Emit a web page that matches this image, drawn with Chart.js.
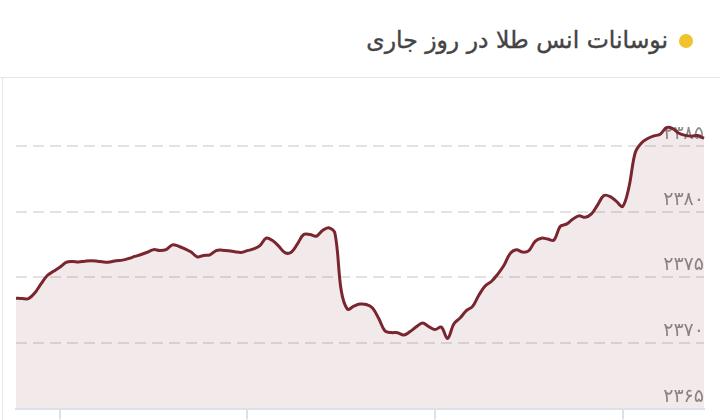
<!DOCTYPE html>
<html><head><meta charset="utf-8">
<script src="https://cdn.jsdelivr.net/npm/chart.js@4"></script>
<style>
html,body{margin:0;padding:0;background:#fff;width:720px;height:420px;overflow:hidden;}
#header{position:absolute;left:0;top:0;width:720px;height:77px;border-bottom:1px solid #e6e6e6;}
#title{position:absolute;right:52px;top:21px;font-family:"DejaVu Sans";font-weight:normal;font-size:23.5px;color:#444;direction:rtl;white-space:nowrap;line-height:38px;-webkit-text-stroke:0.4px #444;}
#dot{position:absolute;left:679px;top:34px;width:14px;height:14px;border-radius:50%;background:#f0c22b;}
#wrap{position:absolute;left:0;top:69px;width:720px;height:351px;}
#leftline{position:absolute;left:2px;top:78px;width:1px;height:342px;background:#e8e8e8;}
</style></head>
<body>
<div id="header"><div id="title">نوسانات انس طلا در روز جاری</div><div id="dot"></div></div>
<div id="leftline"></div>
<div id="wrap"><canvas id="c" width="720" height="351"></canvas></div>
<script>
const categories = [
'09:46','09:48','09:50','09:52','09:54','09:56','09:58',
'10:00','10:02','10:04','10:06','10:08','10:10','10:12','10:14','10:16','10:18','10:20','10:22','10:24','10:26','10:28','10:30','10:32','10:34','10:36','10:38','10:40','10:42','10:44','10:46','10:48','10:50','10:52','10:54','10:56','10:58',
'11:00','11:02','11:04','11:06','11:08','11:10','11:12','11:14','11:16','11:18','11:20','11:22','11:24','11:26','11:28','11:30','11:32','11:34','11:36','11:38','11:40','11:42','11:44','11:46','11:48','11:50','11:52','11:54','11:56','11:58',
'12:00','12:02','12:04','12:06','12:08','12:10','12:12','12:14','12:16','12:18','12:20','12:22','12:24','12:26','12:28','12:30','12:32','12:34','12:36','12:38','12:40','12:42','12:44','12:46','12:48','12:50','12:52','12:54','12:56','12:58',
'13:00','13:02','13:04','13:06','13:08','13:10','13:12','13:14','13:16','13:18','13:20','13:22','13:24','13:26'
];
const goldOunce = [
2373.41,2373.38,2373.38,2373.81,2374.50,2375.14,2375.46,2375.77,2376.13,2376.20,
2376.17,2376.23,2376.27,2376.23,2376.16,2376.17,2376.27,2376.31,2376.43,2376.59,
2376.74,2376.91,2377.11,2377.04,2377.11,2377.47,2377.37,2377.17,2376.92,2376.55,
2376.67,2376.71,2377.04,2377.07,2377.03,2376.95,2376.89,2377.03,2377.16,2377.42,
2377.99,2377.80,2377.38,2376.88,2376.91,2377.55,2378.26,2378.26,2378.13,2378.57,
2378.78,2378.34,2373.99,2372.56,2372.80,2372.96,2372.93,2372.67,2371.86,2370.91,
2370.79,2370.78,2370.60,2370.87,2371.23,2371.52,2371.25,2371.02,2371.21,2370.34,
2371.45,2371.90,2372.46,2372.79,2373.64,2374.34,2374.68,2375.23,2375.90,2376.81,
2377.10,2376.92,2377.04,2377.74,2377.98,2377.92,2377.83,2378.87,2379.05,2379.42,
2379.68,2379.57,2379.83,2380.52,2381.23,2381.15,2380.78,2380.40,2381.87,2384.49,
2385.23,2385.57,2385.77,2385.90,2386.40,2386.33,2385.97,2385.81,2385.75,2385.80,
2385.59
];
const xTickLabels = ['10:00','11:00','12:00','13:00'];
const yTickValues = [2365,2370,2375,2380,2385];
const yTickLabels = ['۲۳۶۵','۲۳۷۰','۲۳۷۵','۲۳۸۰','۲۳۸۵'];

new Chart(document.getElementById('c'), {
  type: 'line',
  data: {
    labels: categories,
    datasets: [{
      data: goldOunce,
      borderColor: '#7a2631',
      borderWidth: 3,
      backgroundColor: 'rgba(122,38,49,0.1)',
      fill: 'start',
      pointRadius: 0,
      tension: 0.35
    }]
  },
  options: {
    responsive: false,
    animation: false,
    devicePixelRatio: 1,
    layout: { padding: { left: 16, right: 16, top: 0, bottom: 0 } },
    plugins: { legend: { display: false }, tooltip: { enabled: false } },
    scales: {
      x: {
        grid: { drawOnChartArea: false, drawTicks: true, tickLength: 11, color: '#dde2ea', lineWidth: 2 },
        border: { display: true, color: '#dde2ea', width: 2 },
        ticks: { display: false, autoSkip: false },
        afterBuildTicks: axis => { axis.ticks = axis.ticks.filter(t => xTickLabels.includes(categories[t.value])); }
      },
      y: {
        position: 'right',
        min: 2365, max: 2390,
        border: { display: false, dash: [11, 6] },
        grid: {
          drawTicks: false,
          lineWidth: 2,
          color: c => (c.tick && (c.tick.value === 2390 || c.tick.value === 2365)) ? 'rgba(0,0,0,0)' : '#e2e2e2'
        },
        ticks: {
          stepSize: 5, mirror: true, padding: 0, labelOffset: -12,
          color: '#8c8c8c', font: { family: 'DejaVu Sans', size: 19 },
          callback: v => { const i = yTickValues.indexOf(v); return i >= 0 ? yTickLabels[i] : ''; }
        }
      }
    }
  }
});
</script>
</body></html>
